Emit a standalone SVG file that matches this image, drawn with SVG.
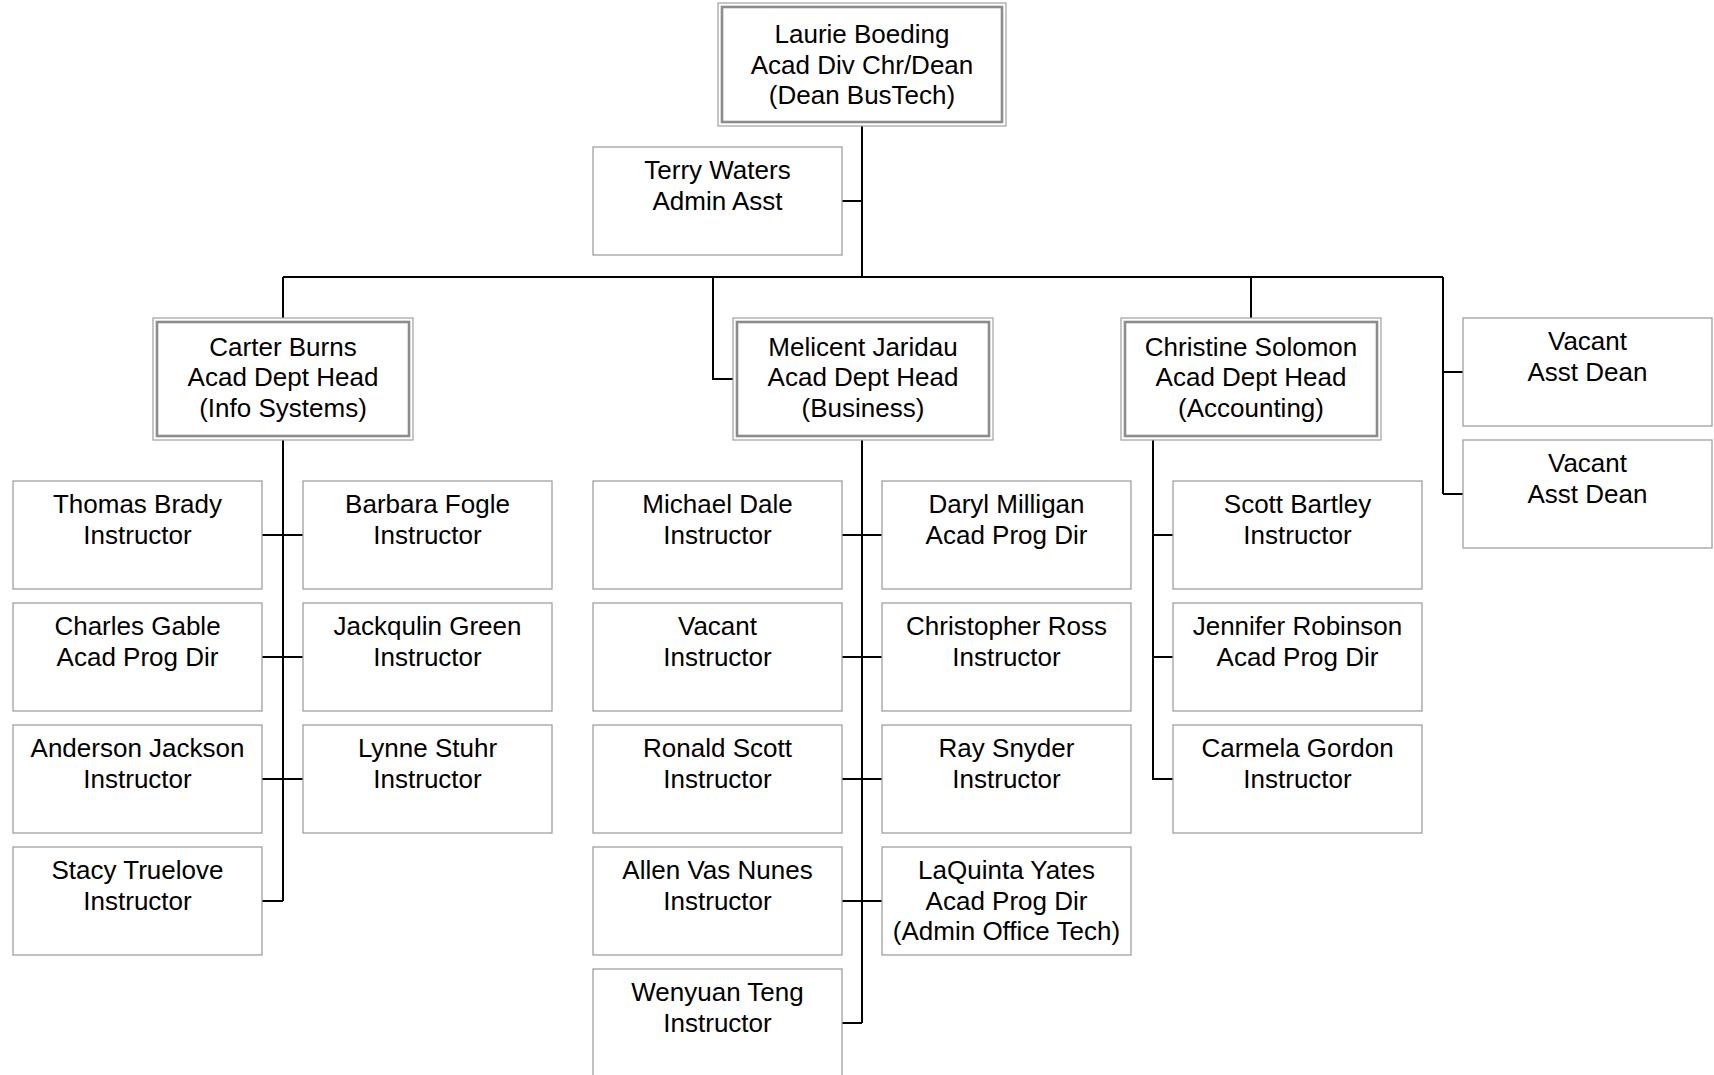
<svg xmlns="http://www.w3.org/2000/svg" width="1714" height="1075" viewBox="0 0 1714 1075">
<style>
text{font-family:"Liberation Sans",Arial,sans-serif;font-size:26px;fill:#000;text-anchor:middle}
.box{fill:#fff;stroke:#a0a0a0;stroke-width:1.3}
.outer{fill:#fff;stroke:#a0a0a0;stroke-width:1.2}
.inner{fill:none;stroke:#8c8c8c;stroke-width:2.6}
.conn{fill:none;stroke:#000;stroke-width:2}
</style>
<rect width="1714" height="1075" fill="#fff"/>
<g id="connectors">
<path class="conn" d="M862 126V277M842 201H862M283 277H1443M283 277V318M713 277V379H733M1251 277V319M1443 277V494M1443 372H1463M1443 494H1463"/>
<path class="conn" d="M283 440V901M262 535H303M262 657H303M262 779H303M262 901H283"/>
<path class="conn" d="M862 439V1023M842 535H882M842 657H882M842 779H882M842 901H882M842 1023H862"/>
<path class="conn" d="M1153 439V779H1173M1153 535H1173M1153 657H1173"/>
</g>
<g id="n-boeding"><rect class="outer" x="718" y="3" width="288" height="123"/><rect class="inner" x="722" y="7" width="280" height="115"/><text x="862" y="43">Laurie Boeding</text><text x="862" y="73.5">Acad Div Chr/Dean</text><text x="862" y="104">(Dean BusTech)</text></g>
<g id="n-waters"><rect class="box" x="593" y="147" width="249" height="108"/><text x="717.5" y="179">Terry Waters</text><text x="717.5" y="209.5">Admin Asst</text></g>
<g id="n-burns"><rect class="outer" x="153" y="318" width="260" height="122"/><rect class="inner" x="157" y="322" width="252" height="114"/><text x="283" y="355.5">Carter Burns</text><text x="283" y="386">Acad Dept Head</text><text x="283" y="416.5">(Info Systems)</text></g>
<g id="n-jaridau"><rect class="outer" x="733" y="318" width="260" height="122"/><rect class="inner" x="737" y="322" width="252" height="114"/><text x="863" y="355.5">Melicent Jaridau</text><text x="863" y="386">Acad Dept Head</text><text x="863" y="416.5">(Business)</text></g>
<g id="n-solomon"><rect class="outer" x="1121" y="318" width="260" height="122"/><rect class="inner" x="1125" y="322" width="252" height="114"/><text x="1251" y="355.5">Christine Solomon</text><text x="1251" y="386">Acad Dept Head</text><text x="1251" y="416.5">(Accounting)</text></g>
<g id="n-vacant-ad1"><rect class="box" x="1463" y="318" width="249" height="108"/><text x="1587.5" y="350">Vacant</text><text x="1587.5" y="380.5">Asst Dean</text></g>
<g id="n-vacant-ad2"><rect class="box" x="1463" y="440" width="249" height="108"/><text x="1587.5" y="472">Vacant</text><text x="1587.5" y="502.5">Asst Dean</text></g>
<g id="n-brady"><rect class="box" x="13" y="481" width="249" height="108"/><text x="137.5" y="513">Thomas Brady</text><text x="137.5" y="543.5">Instructor</text></g>
<g id="n-gable"><rect class="box" x="13" y="603" width="249" height="108"/><text x="137.5" y="635">Charles Gable</text><text x="137.5" y="665.5">Acad Prog Dir</text></g>
<g id="n-jackson"><rect class="box" x="13" y="725" width="249" height="108"/><text x="137.5" y="757">Anderson Jackson</text><text x="137.5" y="787.5">Instructor</text></g>
<g id="n-truelove"><rect class="box" x="13" y="847" width="249" height="108"/><text x="137.5" y="879">Stacy Truelove</text><text x="137.5" y="909.5">Instructor</text></g>
<g id="n-fogle"><rect class="box" x="303" y="481" width="249" height="108"/><text x="427.5" y="513">Barbara Fogle</text><text x="427.5" y="543.5">Instructor</text></g>
<g id="n-green"><rect class="box" x="303" y="603" width="249" height="108"/><text x="427.5" y="635">Jackqulin Green</text><text x="427.5" y="665.5">Instructor</text></g>
<g id="n-stuhr"><rect class="box" x="303" y="725" width="249" height="108"/><text x="427.5" y="757">Lynne Stuhr</text><text x="427.5" y="787.5">Instructor</text></g>
<g id="n-dale"><rect class="box" x="593" y="481" width="249" height="108"/><text x="717.5" y="513">Michael Dale</text><text x="717.5" y="543.5">Instructor</text></g>
<g id="n-vacant-inst"><rect class="box" x="593" y="603" width="249" height="108"/><text x="717.5" y="635">Vacant</text><text x="717.5" y="665.5">Instructor</text></g>
<g id="n-scott"><rect class="box" x="593" y="725" width="249" height="108"/><text x="717.5" y="757">Ronald Scott</text><text x="717.5" y="787.5">Instructor</text></g>
<g id="n-vasnunes"><rect class="box" x="593" y="847" width="249" height="108"/><text x="717.5" y="879">Allen Vas Nunes</text><text x="717.5" y="909.5">Instructor</text></g>
<g id="n-teng"><rect class="box" x="593" y="969" width="249" height="108"/><text x="717.5" y="1001">Wenyuan Teng</text><text x="717.5" y="1031.5">Instructor</text></g>
<g id="n-milligan"><rect class="box" x="882" y="481" width="249" height="108"/><text x="1006.5" y="513">Daryl Milligan</text><text x="1006.5" y="543.5">Acad Prog Dir</text></g>
<g id="n-ross"><rect class="box" x="882" y="603" width="249" height="108"/><text x="1006.5" y="635">Christopher Ross</text><text x="1006.5" y="665.5">Instructor</text></g>
<g id="n-snyder"><rect class="box" x="882" y="725" width="249" height="108"/><text x="1006.5" y="757">Ray Snyder</text><text x="1006.5" y="787.5">Instructor</text></g>
<g id="n-yates"><rect class="box" x="882" y="847" width="249" height="108"/><text x="1006.5" y="879">LaQuinta Yates</text><text x="1006.5" y="909.5">Acad Prog Dir</text><text x="1006.5" y="940">(Admin Office Tech)</text></g>
<g id="n-bartley"><rect class="box" x="1173" y="481" width="249" height="108"/><text x="1297.5" y="513">Scott Bartley</text><text x="1297.5" y="543.5">Instructor</text></g>
<g id="n-robinson"><rect class="box" x="1173" y="603" width="249" height="108"/><text x="1297.5" y="635">Jennifer Robinson</text><text x="1297.5" y="665.5">Acad Prog Dir</text></g>
<g id="n-gordon"><rect class="box" x="1173" y="725" width="249" height="108"/><text x="1297.5" y="757">Carmela Gordon</text><text x="1297.5" y="787.5">Instructor</text></g>
</svg>
